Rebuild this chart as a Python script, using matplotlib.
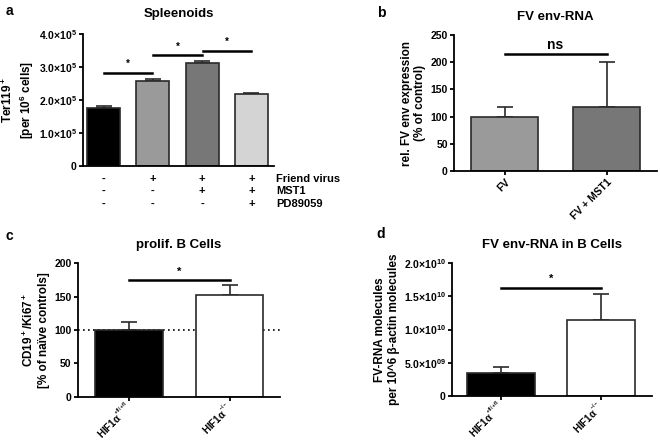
import numpy as np
import matplotlib
matplotlib.use('Agg')
import matplotlib.pyplot as plt
from matplotlib.ticker import FixedLocator

# ---- data ----
# a: Spleenoids
a_vals = [1.77e5, 2.59e5, 3.13e5, 2.19e5]
a_err = [0.05e5, 0.06e5, 0.05e5, 0.02e5]
a_colors = ['#000000', '#9a9a9a', '#777777', '#d4d4d4']
a_rows = ['Friend virus', 'MST1', 'PD89059']
a_table = [['-', '+', '+', '+'],
           ['-', '-', '+', '+'],
           ['-', '-', '-', '+']]
a_sig = [(0, 1, 2.83e5), (1, 2, 3.35e5), (2, 3, 3.50e5)]
a_ticks = [0, 1e5, 2e5, 3e5, 4e5]
a_ticklabels = ['0', r'1.0$\times$10$^5$', r'2.0$\times$10$^5$', r'3.0$\times$10$^5$', r'4.0$\times$10$^5$']

# b: FV env-RNA
b_cats = ['FV', 'FV + MST1']
b_vals = [100, 117]
b_err = [17, 83]
b_colors = ['#9a9a9a', '#777777']
b_sig = (0, 1, 215)

# c: prolif. B Cells
c_cats = [r'HIF1α$^{{}^{+fl/+fl}}$', r'HIF1α$^{{}^{-/-}}$']
c_vals = [100, 152]
c_err = [12, 15]
c_sig = (0, 1, 174)

# d: FV env-RNA in B Cells
d_vals = [0.35e10, 1.14e10]
d_err = [0.09e10, 0.40e10]
d_sig = (0, 1, 1.63e10)
d_ticks = [0, 0.5e10, 1.0e10, 1.5e10, 2.0e10]
d_ticklabels = ['0', r'5.0$\times$10$^{09}$', r'1.0$\times$10$^{10}$', r'1.5$\times$10$^{10}$', r'2.0$\times$10$^{10}$']

# ---- style ----
plt.rcParams['font.family'] = ['Liberation Sans', 'DejaVu Sans']
plt.rcParams['font.weight'] = 'bold'
plt.rcParams['mathtext.fontset'] = 'custom'
plt.rcParams['mathtext.rm'] = 'Liberation Sans:bold'
plt.rcParams['mathtext.it'] = 'Liberation Sans:bold'
plt.rcParams['mathtext.bf'] = 'Liberation Sans:bold'
plt.rcParams['axes.linewidth'] = 1.3
plt.rcParams['xtick.major.width'] = 1.3
plt.rcParams['ytick.major.width'] = 1.3
plt.rcParams['xtick.major.size'] = 3
plt.rcParams['ytick.major.size'] = 3
plt.rcParams['xtick.labelsize'] = 7.5
plt.rcParams['ytick.labelsize'] = 7.5

fig = plt.figure(figsize=(6.6, 4.41), dpi=100)


def style_ax(ax):
    ax.spines['top'].set_visible(False)
    ax.spines['right'].set_visible(False)
    ax.tick_params(pad=1.5)


def bars(ax, vals, err, colors, width):
    x = np.arange(len(vals))
    ax.bar(x, vals, width=width, color=colors, edgecolor='#2a2a2a', linewidth=1.2, zorder=2)
    ax.errorbar(x, vals, yerr=[np.zeros(len(vals)), err], fmt='none', ecolor='#2a2a2a',
                elinewidth=1.2, capsize=6, capthick=1.2, zorder=1)
    return x


def sig_line(ax, x0, x1, y, text, dy, size=8):
    ax.plot([x0, x1], [y, y], color='black', lw=1.8, clip_on=False, zorder=3)
    ax.text((x0 + x1) / 2, y + dy, text, ha='center', va='bottom', fontsize=size, fontweight='bold')


def hif_ticks(ax, x):
    ax.set_xticks(x)
    ax.set_xticklabels(c_cats, rotation=45, ha='right', va='center', rotation_mode='anchor', fontsize=7)
    ax.tick_params(axis='x', pad=3)


# ---- a ----
ax = fig.add_axes([0.1258, 0.6236, 0.2894, 0.2993])
style_ax(ax)
x = bars(ax, a_vals, a_err, a_colors, 0.67)
ax.set_xlim(-0.42, 3.46)
ax.set_ylim(0, 4e5)
ax.yaxis.set_major_locator(FixedLocator(a_ticks))
ax.set_yticklabels(a_ticklabels)
ax.set_xticks(x)
ax.set_xticklabels([])
ax.tick_params(axis='x', length=0)
for x0, x1, y in a_sig:
    ax.plot([x0 + 0.01, x1 - 0.01], [y, y], color='black', lw=1.8, zorder=3)
    ax.text((x0 + x1) / 2, y + 0.12e5, '*', ha='center', va='bottom', fontsize=7, fontweight='bold')
for r, row in enumerate(a_table):
    ypos = -0.38e5 - r * 0.38e5
    for i, s in enumerate(row):
        ax.text(i, ypos, s, ha='center', va='center', fontsize=8, fontweight='bold', clip_on=False)
    ax.text(3.5, ypos, a_rows[r], ha='left', va='center', fontsize=8, fontweight='bold', clip_on=False)
ax.set_ylabel('Ter119$^+$\n[per 10$^6$ cells]', fontsize=8.5, fontweight='bold', labelpad=2)
ax.set_title('Spleenoids', fontsize=9.5, fontweight='bold', pad=12)
fig.text(0.008, 0.975, 'a', fontsize=10, fontweight='bold', va='center')

# ---- b ----
ax = fig.add_axes([0.688, 0.6122, 0.3076, 0.3084])
style_ax(ax)
x = bars(ax, b_vals, b_err, b_colors, 0.66)
ax.set_xlim(-0.495, 1.495)
ax.set_ylim(0, 250)
ax.set_yticks([0, 50, 100, 150, 200, 250])
ax.set_xticks(x)
ax.set_xticklabels(b_cats, rotation=45, ha='right', rotation_mode='anchor', fontsize=7.5)
sig_line(ax, b_sig[0], b_sig[1], b_sig[2], 'ns', 3, size=10)
ax.set_ylabel('rel. FV env expression\n(% of control)', fontsize=8.5, fontweight='bold', labelpad=3)
ax.set_title('FV env-RNA', fontsize=9.5, fontweight='bold', pad=11)
fig.text(0.571, 0.97, 'b', fontsize=10, fontweight='bold', va='center')

# ---- c ----
ax = fig.add_axes([0.118, 0.0998, 0.306, 0.3038])
style_ax(ax)
x = bars(ax, c_vals, c_err, ['#000000', '#ffffff'], 0.67)
ax.axhline(100, color='black', lw=1.2, ls=(0, (1, 2)), zorder=0)
ax.set_xlim(-0.51, 1.5)
ax.set_ylim(0, 200)
ax.set_yticks([0, 50, 100, 150, 200])
hif_ticks(ax, x)
sig_line(ax, c_sig[0], c_sig[1], c_sig[2], '*', 6)
ax.set_ylabel('CD19$^+$/Ki67$^+$\n[% of naïve controls]', fontsize=8.5, fontweight='bold', labelpad=3)
ax.set_title('prolif. B Cells', fontsize=9.5, fontweight='bold', pad=11)
fig.text(0.008, 0.465, 'c', fontsize=10, fontweight='bold', va='center')

# ---- d ----
ax = fig.add_axes([0.685, 0.102, 0.303, 0.3016])
style_ax(ax)
x = bars(ax, d_vals, d_err, ['#000000', '#ffffff'], 0.68)
ax.set_xlim(-0.49, 1.51)
ax.set_ylim(0, 2.0e10)
ax.yaxis.set_major_locator(FixedLocator(d_ticks))
ax.set_yticklabels(d_ticklabels)
hif_ticks(ax, x)
sig_line(ax, d_sig[0], d_sig[1], d_sig[2], '*', 0.06e10)
ax.set_ylabel('FV-RNA molecules\nper 10^6 β-actin molecules', fontsize=8.5, fontweight='bold', labelpad=3)
ax.set_title('FV env-RNA in B Cells', fontsize=9.5, fontweight='bold', pad=11)
fig.text(0.571, 0.47, 'd', fontsize=10, fontweight='bold', va='center')

fig.savefig('out.png', dpi=100)
